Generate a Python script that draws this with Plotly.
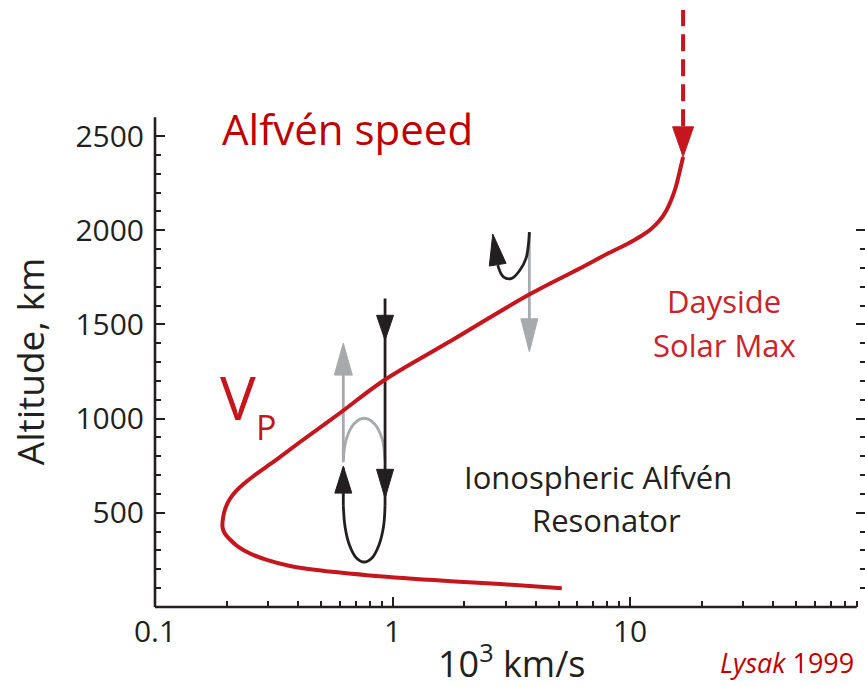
import numpy as np
import plotly.graph_objects as go

# ---------------- data ----------------
# Alfven speed profile: speed (10^3 km/s) vs altitude (km)
vp_speed = [5.16, 2.84, 1.49, 0.78, 0.4796, 0.3703, 0.2954, 0.2512, 0.2236,
            0.2059, 0.1962, 0.1924, 0.1937, 0.1981, 0.2059, 0.2183, 0.2359,
            0.2586, 0.2876, 0.3248, 0.408, 0.601, 0.912, 1.69, 3.73, 6.16,
            7.98, 9.81, 11.13, 12.26, 13.25, 14.18, 14.96, 15.62, 16.16, 16.72]
vp_alt = [100, 122, 143, 169, 196, 218, 250, 284, 321,
          361, 393, 425, 478, 526, 571, 613, 653,
          693, 735, 783, 876, 1030, 1200, 1400, 1656, 1798,
          1874, 1930, 1970, 2007, 2049, 2103, 2166, 2235, 2310, 2389]
# dashed continuation above the plot
vp_ext_speed = [16.72, 16.72]
vp_ext_alt = [2420, 3170]

# resonator wave paths
down_x = [0.93, 0.93]
down_alt = [1638, 541]
loop_x = [0.930, 0.916, 0.876, 0.821, 0.760, 0.703, 0.659, 0.631, 0.6205]
loop_alt = [541, 426, 328, 262, 239, 262, 328, 426, 541]
upblack_x = [0.6205, 0.6205]
upblack_alt = [541, 740]
upgray_x = [0.6205, 0.6205]
upgray_alt = [768, 1380]
arc_x = [0.6205, 0.6385, 0.6874, 0.760, 0.8406, 0.905, 0.930]
arc_alt = [779, 890, 972, 1002, 972, 890, 779]

# reflection at the upper boundary
refl_x = [3.767, 3.767]
refl_alt = [1990, 1375]
hook_x = [3.767, 3.73, 3.65, 3.44, 3.176, 2.928, 2.773]
hook_alt = [1990, 1921, 1852, 1789, 1745, 1753, 1815]

# arrowhead tips: (speed, altitude, direction dx, dy in screen terms)
black_tips = [(0.93, 1416, 0, -1), (0.93, 577, 0, -1), (0.6205, 748, 0, 1),
              (2.642, 1980, -5, 31)]
gray_tips = [(0.6205, 1401, 0, 1), (3.767, 1355, 0, -1)]
red_tips = [(16.72, 2390, 0, -1)]

x_tickvals = [0.1, 1, 10]
x_ticktext = ["0.1", "1", "10"]
x_minor = [0.2, 0.3, 0.4, 0.5, 0.6, 0.7, 0.8, 0.9,
           2, 3, 4, 5, 6, 7, 8, 9, 20, 30, 40, 50, 60, 70, 80, 90]
y_tickvals = [500, 1000, 1500, 2000, 2500]
y_minor = [a for a in range(100, 2500, 100) if a % 500]
y2_tickvals = [500, 1000, 1500, 2000]
y2_minor = [a for a in range(100, 2000, 100) if a % 500]

# ---------------- geometry / styles ----------------
W, H = 865, 687
ML, MR, MT, MB = 155, 0, 0, 80
PW, PH = W - ML - MR, H - MT - MB
XMIN, XMAX = -1.0, 1.989
YTOP = 3222.7
PX_DEC = PW / (XMAX - XMIN)
PX_KM = PH / YTOP

DARK = "#231f20"
RED = "#c4161c"
RED_TXT = "#c00000"
GRAY = "#a7a9ac"
FONT = "Open Sans"


def head(tip, length, width):
    x, y, dx, dy = tip
    tx, ty = np.log10(x) * PX_DEC, y * PX_KM
    n = np.hypot(dx, dy)
    ux, uy = dx / n, dy / n
    bx, by = tx - ux * length, ty - uy * length
    px = [tx, bx - uy * width / 2, bx + uy * width / 2, tx]
    py = [ty, by + ux * width / 2, by - ux * width / 2, ty]
    return [10 ** (p / PX_DEC) for p in px], [p / PX_KM for p in py]


fig = go.Figure()


def line(x, y, color, width, shape="linear", dash="solid"):
    fig.add_trace(go.Scatter(x=x, y=y, mode="lines", showlegend=False,
                             hoverinfo="skip",
                             line=dict(color=color, width=width, shape=shape,
                                       dash=dash, smoothing=1.0)))


def poly(x, y, color):
    fig.add_trace(go.Scatter(x=x, y=y, mode="lines", fill="toself",
                             fillcolor=color, showlegend=False, hoverinfo="skip",
                             line=dict(color=color, width=1)))


# waves
line(upgray_x, upgray_alt, GRAY, 2.8)
line(arc_x, arc_alt, GRAY, 2.8, shape="spline")
line(refl_x, refl_alt, GRAY, 2.8)
line(down_x, down_alt, DARK, 2.8)
line(loop_x, loop_alt, DARK, 2.8, shape="spline")
line(upblack_x, upblack_alt, DARK, 2.8)
line(hook_x, hook_alt, DARK, 2.8, shape="spline")
for t, L, Wd in zip(gray_tips, [32, 33], [18, 17]):
    hx, hy = head(t, L, Wd)
    poly(hx, hy, GRAY)
for t, L, Wd in zip(black_tips, [25, 29, 27, 31], [17, 17, 17, 17]):
    hx, hy = head(t, L, Wd)
    poly(hx, hy, DARK)

# Alfven speed curve
line(vp_ext_speed, vp_ext_alt, RED, 4, dash="17px,8px")
line(vp_speed, vp_alt, RED, 4, shape="spline")
for t in red_tips:
    hx, hy = head(t, 30, 21)
    poly(hx, hy, RED)

# carrier for the right-hand tick axis
fig.add_trace(go.Scatter(x=[None], y=[None], yaxis="y2", showlegend=False,
                         hoverinfo="skip"))

tickfont = dict(family=FONT, size=30, color=DARK)
fig.update_layout(
    width=W, height=H, margin=dict(l=ML, r=MR, t=MT, b=MB),
    paper_bgcolor="white", plot_bgcolor="white",
    font=dict(family=FONT, color=DARK),
    xaxis=dict(type="log", range=[XMIN, XMAX], showgrid=False, zeroline=False,
               showline=False, ticks="inside", ticklen=10, tickwidth=2,
               tickcolor=DARK, tickmode="array", tickvals=x_tickvals,
               ticktext=x_ticktext, tickfont=tickfont, ticklabelstandoff=4,
               minor=dict(tickmode="array", tickvals=x_minor, ticks="inside",
                          ticklen=6, tickwidth=2, tickcolor=DARK,
                          showgrid=False)),
    yaxis=dict(range=[0, YTOP], showgrid=False, zeroline=False, showline=False,
               ticks="inside", ticklen=10, tickwidth=2, tickcolor=DARK,
               tickmode="array", tickvals=y_tickvals, tickfont=tickfont,
               ticklabelstandoff=10,
               minor=dict(tickmode="array", tickvals=y_minor, ticks="inside",
                          ticklen=6, tickwidth=2, tickcolor=DARK,
                          showgrid=False)),
    yaxis2=dict(range=[0, YTOP], overlaying="y", side="right", anchor="x",
                showgrid=False, zeroline=False, showline=False,
                ticks="inside", ticklen=9, tickwidth=2, tickcolor=DARK,
                tickmode="array", tickvals=y2_tickvals, showticklabels=False,
                minor=dict(tickmode="array", tickvals=y2_minor, ticks="inside",
                           ticklen=5, tickwidth=2, tickcolor=DARK,
                           showgrid=False)),
)

# axis lines
fig.add_shape(type="line", xref="paper", yref="paper", x0=0, x1=0, y0=0,
              y1=2600 / YTOP, line=dict(color=DARK, width=2.6))
fig.add_shape(type="line", xref="paper", yref="paper", x0=0,
              x1=(np.log10(90) - XMIN) / (XMAX - XMIN), y0=0, y1=0,
              line=dict(color=DARK, width=2.6))


def px2paper(px, py):
    return (px - ML) / PW, (H - MB - py) / PH


def ann(text, px, py, size, color, angle=0):
    x, y = px2paper(px, py)
    fig.add_annotation(text=text, x=x, y=y, xref="paper", yref="paper",
                       showarrow=False, xanchor="center", yanchor="middle",
                       textangle=angle,
                       font=dict(family=FONT, size=size, color=color))


ann("Altitude, km", 29.5, 361.7, 37, DARK, angle=-90)
ann("10<sup>3</sup> km/s", 512, 661, 36, DARK)
ann("Alfvén speed", 347.2, 128.7, 42, RED_TXT)
ann("Dayside", 724.2, 301.3, 31, "#cc2229")
ann("Solar Max", 724.2, 345.3, 31, "#cc2229")
ann("Ionospheric Alfvén", 597.5, 476.7, 31, DARK)
ann("Resonator", 606.5, 520, 31, DARK)
ann("V", 238.3, 396.7, 60, RED)
ann("P", 265.5, 426.8, 34, RED)
ann("<i>Lysak</i> 1999", 787, 662, 27, RED_TXT)

fig.write_html("out.html")
